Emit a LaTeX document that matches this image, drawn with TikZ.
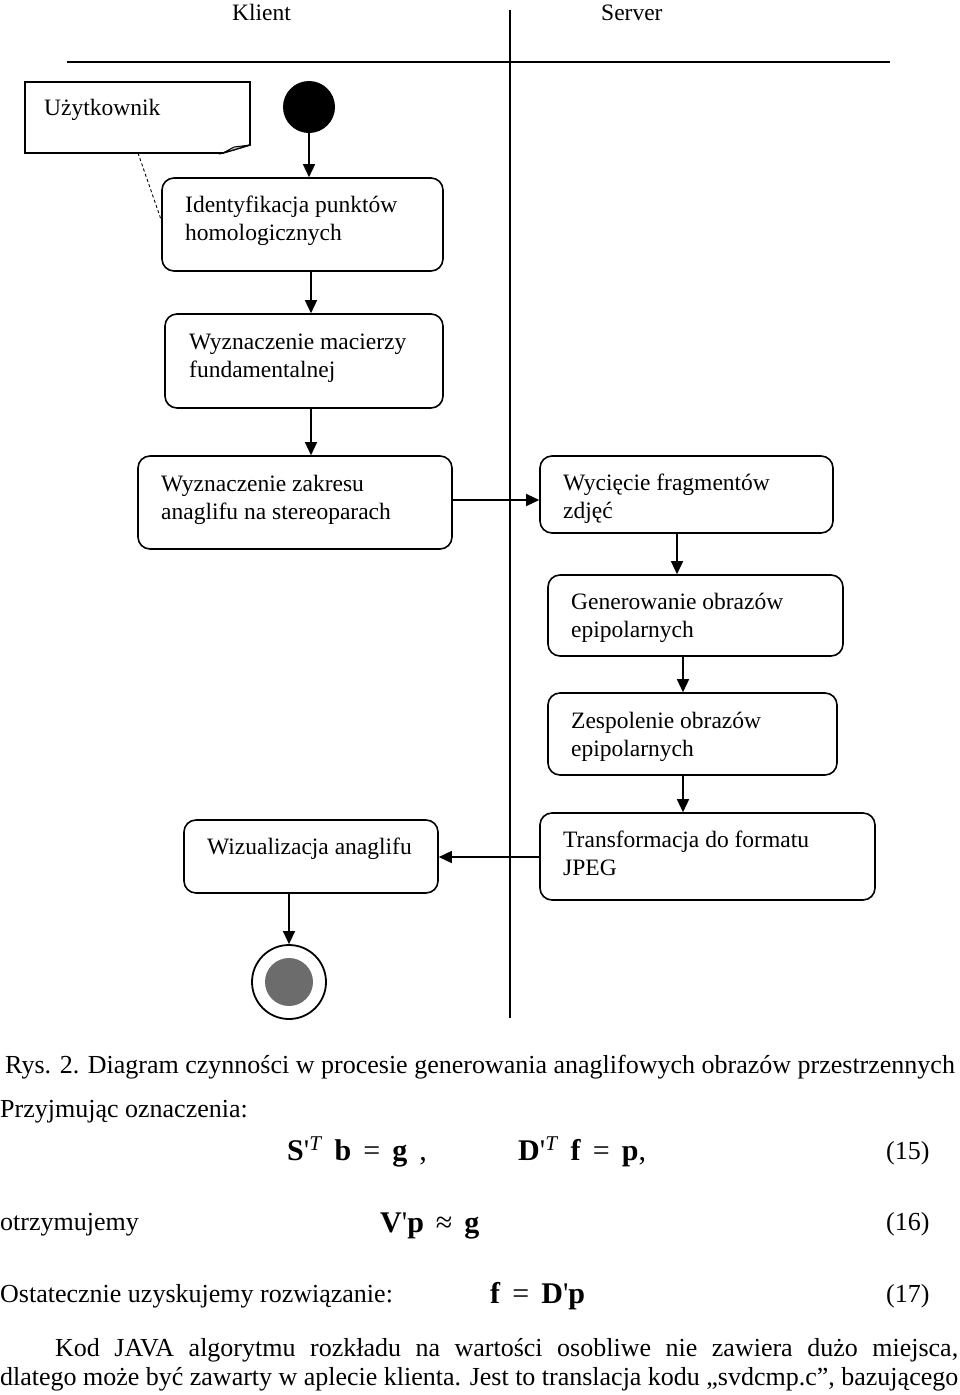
\documentclass[tikz,border=0pt]{standalone}
\usepackage{fontspec}
\setmainfont{Liberation Serif}
\newfontfamily\rawf{Liberation Serif}[Ligatures=TeXOff]
\usetikzlibrary{arrows.meta}
\newcommand{\sq}{{\rawf\char"0027}}
\newcommand{\rsp}{\hspace{0.4em}}
\tikzset{
  act/.style={draw, line width=1.6pt, rounded corners=12pt, inner sep=0pt},
  txt/.style={anchor=base west, inner sep=0pt, align=left, font=\fontsize{23.5}{27.3}\selectfont},
  flow/.style={line width=1.4pt, -{Triangle[length=13pt,width=12pt]}},
  lane/.style={line width=1.8pt},
  body/.style={anchor=base west, inner sep=0pt, font=\fontsize{26}{30}\selectfont},
  eq/.style={anchor=base west, inner sep=0pt, font=\fontsize{30}{34}\selectfont}
}
\begin{document}
\begin{tikzpicture}[x=1pt,y=-1pt]
\useasboundingbox (0,0) rectangle (960,1395);
% swimlanes
\coordinate (hl) at (67,62); \coordinate (hr) at (890,62);
\coordinate (vt) at (510,10); \coordinate (vb) at (510,1018);
\draw[lane] (hl) -- (hr);
\draw[lane] (vt) -- (vb);
\node[txt] (klient) at (232,20) {Klient};
\node[txt] (server) at (601,20) {Server};
% note
\draw[line width=1.6pt] (25,82) -- (250,82) -- (250,145) -- (223,153) -- (25,153) -- cycle;
\draw[line width=1pt, fill=gray!40] (250,145) -- (234,147) -- (223,153) -- cycle;
\coordinate (notebot) at (138,153);
\node[txt] (user) at (44,115) {Użytkownik};
% start
\node[circle, fill=black, minimum size=52pt, inner sep=0pt] (start) at (309,107) {};
% boxes
\node[act, minimum width=281pt, minimum height=93pt] (b1) at (302.5,224.5) {};
\node[txt] at (185,240) {Identyfikacja punktów\\homologicznych};
\node[act, minimum width=278pt, minimum height=94pt] (b2) at (304,361) {};
\node[txt] at (189,377) {Wyznaczenie macierzy\\fundamentalnej};
\node[act, minimum width=314pt, minimum height=93pt] (b3) at (295,502.5) {};
\node[txt] at (161,519) {Wyznaczenie zakresu\\anaglifu na stereoparach};
\node[act, minimum width=293pt, minimum height=77pt] (b4) at (686.5,494.5) {};
\node[txt] at (563,518) {Wycięcie fragmentów\\zdjęć};
\node[act, minimum width=295pt, minimum height=81pt] (b5) at (695.5,615.5) {};
\node[txt] at (571,637) {Generowanie obrazów\\epipolarnych};
\node[act, minimum width=289pt, minimum height=82pt] (b6) at (692.5,734) {};
\node[txt] at (571,756) {Zespolenie obrazów\\epipolarnych};
\node[act, minimum width=335pt, minimum height=87pt] (b7) at (707.5,856.5) {};
\node[txt] at (563,875) {Transformacja do formatu\\JPEG};
\node[act, minimum width=254pt, minimum height=73pt] (b8) at (311,856.5) {};
\node[txt] at (207,854) {Wizualizacja anaglifu};
% end
\node[circle, draw, line width=1.8pt, minimum size=74pt, inner sep=0pt] (end) at (289,982) {};
\node[circle, fill=gray!85!black, minimum size=48pt, inner sep=0pt] (endin) at (289,982) {};
% connectors
\draw[flow] (start.south) -- (start.south |- b1.north);
\draw[flow] (b1.south -| 311,0) -- (b2.north -| 311,0);
\draw[flow] (b2.south -| 311,0) -- (b3.north -| 311,0);
\draw[flow] (b3.east |- 0,500) -- (b4.west |- 0,500);
\draw[flow] (b4.south -| 677,0) -- (b5.north -| 677,0);
\draw[flow] (b5.south -| 683,0) -- (b6.north -| 683,0);
\draw[flow] (b6.south -| 683,0) -- (b7.north -| 683,0);
\draw[flow] (b7.west |- 0,857) -- (b8.east |- 0,857);
\draw[flow] (b8.south -| end.north) -- (end.north);
\draw[line width=0.9pt, dash pattern=on 3pt off 2.5pt] (notebot) -- (b1.west |- 0,220);
% text below
\node[body] (cap) at (5,1073) {Rys. 2. Diagram czynności w procesie generowania anaglifowych obrazów przestrzennych};
\node[body] (przy) at (0,1117) {Przyjmując oznaczenia:};
\node[eq] (e15a) at (287,1160) {\textbf{S}\sq\textsuperscript{\textit{T}}\rsp\textbf{b}\rsp=\rsp\textbf{g}\rsp,};
\node[eq] (e15b) at (518,1160) {\textbf{D}\sq\textsuperscript{\textit{T}}\rsp\textbf{f}\rsp=\rsp\textbf{p},};
\node[body] (n15) at (886,1159) {(15)};
\node[body] (otrz) at (0,1230) {otrzymujemy};
\node[eq] (e16) at (380,1232) {\textbf{V}\sq\textbf{p}\rsp≈\rsp\textbf{g}};
\node[body] (n16) at (886,1230) {(16)};
\node[body] (ost) at (0,1302) {Ostatecznie uzyskujemy rozwiązanie:};
\node[eq] (e17) at (490,1303) {\textbf{f}\rsp=\rsp\textbf{D}\sq\textbf{p}};
\node[body] (n17) at (886,1302) {(17)};
\node[body] (p1) at (55,1356) {\makebox[903pt][s]{Kod JAVA algorytmu rozkładu na wartości osobliwe nie zawiera dużo miejsca,}};
\node[body] (p2) at (0,1385) {\makebox[958pt][s]{dlatego może być zawarty w aplecie klienta. Jest to translacja kodu „svdcmp.c”, bazującego}};
\end{tikzpicture}
\end{document}
